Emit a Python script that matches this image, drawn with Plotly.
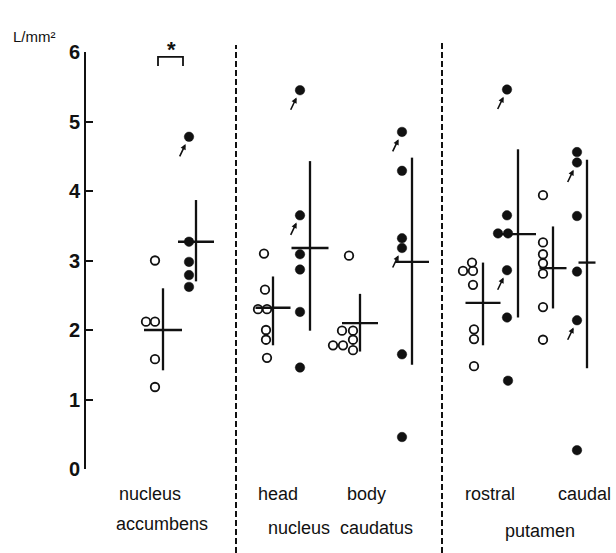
import plotly.graph_objects as go

# ---------------- data ----------------
groups = ["accumbens open", "accumbens filled", "head open", "head filled",
          "body open", "body filled", "rostral open", "rostral filled",
          "caudal open", "caudal filled"]

acc_open = [3.00, 2.12, 2.12, 1.58, 1.18]
acc_filled = [4.78, 3.27, 2.98, 2.79, 2.62]
head_open = [3.10, 2.58, 2.30, 2.30, 2.00, 1.86, 1.60]
head_filled = [5.45, 3.65, 3.09, 2.87, 2.26, 1.46]
body_open = [3.07, 1.99, 1.99, 1.86, 1.78, 1.78, 1.71]
body_filled = [4.85, 4.29, 3.32, 3.18, 1.65, 0.46]
rostral_open = [2.97, 2.85, 2.85, 2.65, 2.01, 1.87, 1.48]
rostral_filled = [5.46, 3.65, 3.39, 3.39, 2.86, 2.18, 1.27]
caudal_open = [3.94, 3.26, 3.09, 2.96, 2.81, 2.33, 1.86]
caudal_filled = [4.56, 4.41, 3.64, 2.84, 2.14, 0.27]

means = [2.00, 3.27, 2.32, 3.18, 2.10, 2.98, 2.39, 3.38, 2.89, 2.97]
sd_top = [2.60, 3.87, 2.77, 4.43, 2.52, 4.48, 2.97, 4.60, 3.49, 4.45]
sd_bottom = [1.42, 2.70, 1.78, 1.99, 1.69, 1.50, 1.78, 2.18, 2.31, 1.45]

# indices of points marked with a small arrow
arrow_idx = {1: [0], 3: [0, 1], 5: [0, 3], 7: [0, 4], 9: [1, 4]}

y_ticks = [0, 1, 2, 3, 4, 5, 6]
y_tick_labels = ["0", "1", "2", "3", "4", "5", "6"]
sub_labels = ["head", "body", "rostral", "caudal"]
main_labels = ["nucleus", "accumbens", "nucleus  caudatus", "putamen"]

# ---------------- layout positions / styles ----------------
series = [acc_open, acc_filled, head_open, head_filled, body_open,
          body_filled, rostral_open, rostral_filled, caudal_open, caudal_filled]
point_x = [155, 189, 265, 300, 349, 402, 473, 507, 543, 577]
offsets = {
    0: [0, -9, 0, 0, 0],
    2: [-1, 0, -7, 2, 1, 1, 2],
    4: [0, -7, 4, 4, -16, -6, 4],
    6: [-1, -10, 0, 0, 1, 1, 1],
    7: [0, 0, -9, 1, 0, 0, 1],
}
stat_x = [163, 196, 273, 310, 360, 412, 483, 518, 553, 587]
mean_w = [38, 36, 35, 37, 36, 34, 35, 36, 27, 17]

W, H = 616, 553
y0_px, y6_px = 469, 52
FONT = "Liberation Sans"
INK = "#111111"

fig = go.Figure()

# individual points
for i, vals in enumerate(series):
    offs = offsets.get(i, [0] * len(vals))
    xs = [point_x[i] + o for o in offs]
    filled = (i % 2 == 1)
    fig.add_trace(go.Scatter(
        x=xs, y=vals, mode="markers", cliponaxis=False, showlegend=False,
        marker=dict(
            symbol="circle" if filled else "circle-open",
            size=9.5 if filled else 8.5,
            color=INK,
            line=dict(width=1.8 if not filled else 0.5, color=INK),
        ),
    ))

# mean +/- SD crosses
fig.add_trace(go.Scatter(
    x=stat_x, y=means, mode="markers", cliponaxis=False, showlegend=False,
    marker=dict(size=1, color=INK, opacity=0),
    error_y=dict(type="data", symmetric=False,
                 array=[t - m for t, m in zip(sd_top, means)],
                 arrayminus=[m - b for m, b in zip(means, sd_bottom)],
                 width=0, thickness=2.3, color=INK),
    error_x=dict(type="data", symmetric=True,
                 array=[w / 2 for w in mean_w],
                 width=0, thickness=2.3, color=INK),
))

# significance bracket
fig.add_trace(go.Scatter(
    x=[158, 158, 183, 183], y=[5.80, 5.93, 5.93, 5.80], mode="lines",
    line=dict(color=INK, width=1.8), showlegend=False, cliponaxis=False,
))

annotations = []
annotations.append(dict(x=171, y=1 - 50 / H, xref="x", yref="paper", text="<b>*</b>",
                        showarrow=False, font=dict(family=FONT, size=22, color=INK),
                        yanchor="middle"))

# arrows to marked points
for i, idxs in arrow_idx.items():
    for k in idxs:
        offs = offsets.get(i, [0] * len(series[i]))
        annotations.append(dict(
            x=point_x[i] + offs[k], y=series[i][k], xref="x", yref="y",
            text="", showarrow=True, ax=-10, ay=21, axref="pixel", ayref="pixel",
            arrowhead=2, arrowsize=0.7, arrowwidth=1.6, arrowcolor=INK,
            standoff=8,
        ))

# unit label
annotations.append(dict(x=11, y=1 - 26 / H, xref="x", yref="paper",
                        text="L/mm²", showarrow=False, xanchor="left",
                        font=dict(family=FONT, size=15, color=INK)))

# category labels
lab_font = dict(family=FONT, size=18, color=INK)
for txt, xc in zip(sub_labels, [278, 366, 490, 584]):
    annotations.append(dict(x=xc, y=1 - 506 / H, xref="x", yref="paper", text=txt,
                            showarrow=False, font=lab_font))
for txt, xc, yc in zip(main_labels, [150, 162, 340, 540], [506, 536, 540, 543]):
    annotations.append(dict(x=xc, y=1 - yc / H, xref="x", yref="paper", text=txt,
                            showarrow=False, font=lab_font))

shapes = []
for xd, ytop in [(236, 45), (442, 40)]:
    shapes.append(dict(type="line", xref="x", yref="paper", x0=xd, x1=xd,
                       y0=0, y1=1 - ytop / H,
                       line=dict(color=INK, width=2, dash="6px,3px")))

fig.update_layout(
    width=W, height=H, margin=dict(l=0, r=0, t=0, b=0, pad=0, autoexpand=False),
    paper_bgcolor="white", plot_bgcolor="white",
    xaxis=dict(domain=[0, 1], range=[0, W], visible=False, fixedrange=True,
               automargin=False),
    yaxis=dict(domain=[(H - y0_px) / H, (H - y6_px) / H], range=[0, 6],
               anchor="free", position=85 / W, automargin=False,
               showline=True, linecolor=INK, linewidth=2,
               ticks="inside", ticklen=7, tickwidth=2, tickcolor=INK,
               tickvals=y_ticks, ticktext=y_tick_labels,
               tickfont=dict(family=FONT, size=20, color=INK, weight="bold"),
               showgrid=False, zeroline=False, fixedrange=True),
    annotations=annotations, shapes=shapes, showlegend=False,
)

fig.write_html("out.html", config={"displayModeBar": False},
               post_script="document.body.style.margin='0';document.body.style.overflow='hidden';")
